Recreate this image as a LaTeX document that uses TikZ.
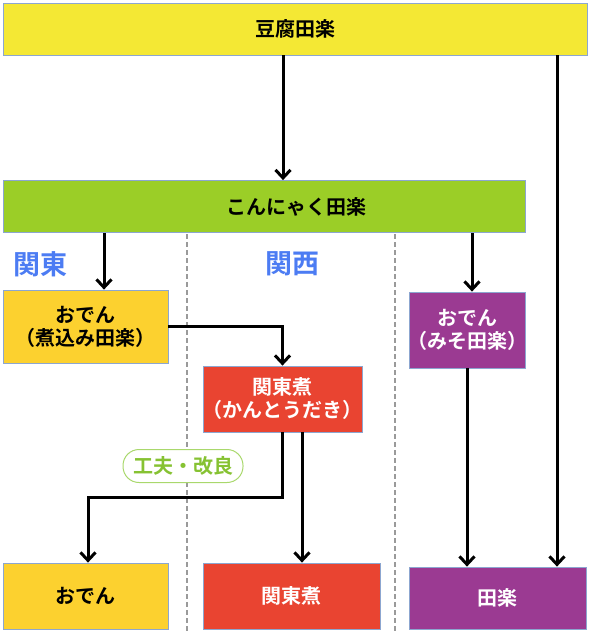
\documentclass[tikz,border=0pt]{standalone}
\usepackage{fontspec}
\setmainfont{Noto Sans CJK JP}[BoldFont={Noto Sans CJK JP Bold}]
\usetikzlibrary{arrows.meta}
\definecolor{cyel}{HTML}{F4E834}
\definecolor{cgrn}{HTML}{9BCE27}
\definecolor{cgold}{HTML}{FCD12F}
\definecolor{cred}{HTML}{E94431}
\definecolor{cpur}{HTML}{9B3A92}
\definecolor{cblue}{HTML}{4C7CF3}
\definecolor{cedge}{HTML}{8CA6D0}
\definecolor{cpilltxt}{HTML}{86C232}
\definecolor{cpilledge}{HTML}{A9D86C}
\definecolor{cdash}{HTML}{9A9A9A}
\tikzset{
  boxfont/.style={font=\bfseries\fontsize{20}{23}\selectfont},
  box/.style={draw=cedge, line width=0.8pt, inner ysep=0pt, inner xsep=-12pt, align=center, boxfont},
  arr/.style={line width=3pt, -{Straight Barb[length=8pt,width=15pt]}},
  divider/.style={draw=cdash, line width=1.5pt, dash pattern=on 5pt off 3pt},
  region/.style={text=cblue, font=\bfseries\fontsize{27}{30}\selectfont},
  pill/.style={draw=cpilledge, line width=1pt, fill=white, rounded corners=16pt,
    minimum width=120pt, minimum height=33pt, text=cpilltxt, inner sep=0pt,
    font=\bfseries\fontsize{20}{22}\selectfont}
}
\begin{document}
\begin{tikzpicture}[x=1pt,y=-1pt]
\useasboundingbox (0,0) rectangle (590,634);
% dividers
\coordinate (d1t) at (187,234);
\coordinate (d1b) at (187,634);
\coordinate (d2t) at (395,234);
\coordinate (d2b) at (395,634);
\draw[divider] (d1t) -- (d1b);
\draw[divider] (d2t) -- (d2b);
% boxes
\node[box, fill=cyel, minimum width=584pt, minimum height=52pt] (top) at (295,29) {豆腐田楽};
\node[box, fill=cgrn, minimum width=522pt, minimum height=52pt,
  label={[xshift=32pt, boxfont]center:こんにゃく田楽}] (konn) at (264,206.5) {};
\node[box, fill=cgold, minimum width=165pt, minimum height=73pt] (oden1) at (85.5,326.5) {おでん\\（煮込み田楽）};
\node[box, fill=cred, text=white, minimum width=159pt, minimum height=66pt] (kanto) at (282.5,399) {関東煮\\（かんとうだき）};
\node[box, fill=cpur, text=white, minimum width=116pt, minimum height=76pt] (miso) at (467,330) {おでん\\（みそ田楽）};
\node[box, fill=cgold, minimum width=165pt, minimum height=66pt] (oden2) at (85.5,596) {おでん};
\node[box, fill=cred, text=white, minimum width=177pt, minimum height=66pt] (kanto2) at (291.5,596) {関東煮};
\node[box, fill=cpur, text=white, minimum width=177pt, minimum height=62pt] (dengaku) at (497.5,598) {田楽};
% region labels
\node[region] (kantoLbl) at (40,264) {関東};
\node[region] (kansaiLbl) at (292,264) {関西};
% connectors
\draw[arr] ([xshift=-12pt]top.south) -- ([xshift=-12pt]top.south |- konn.north);
\draw[arr] ([xshift=262pt]top.south) -- ([xshift=262pt]top.south |- dengaku.north);
\draw[arr] ([xshift=18.5pt]oden1.north |- konn.south) -- ([xshift=18.5pt]oden1.north);
\draw[arr] ([xshift=5pt]miso.north |- konn.south) -- ([xshift=5pt]miso.north);
\draw[arr] (oden1.east) -| (kanto.north);
\coordinate (bend) at (88,497);
\draw[arr] (kanto.south) |- (bend) -- (bend |- oden2.north);
\draw[arr] ([xshift=19.5pt]kanto.south) -- ([xshift=19.5pt]kanto.south |- kanto2.north);
\draw[arr] (miso.south) -- (miso.south |- dengaku.north);
% pill
\node[pill] (kaizen) at (183,466) {工夫・改良};
\end{tikzpicture}
\end{document}
